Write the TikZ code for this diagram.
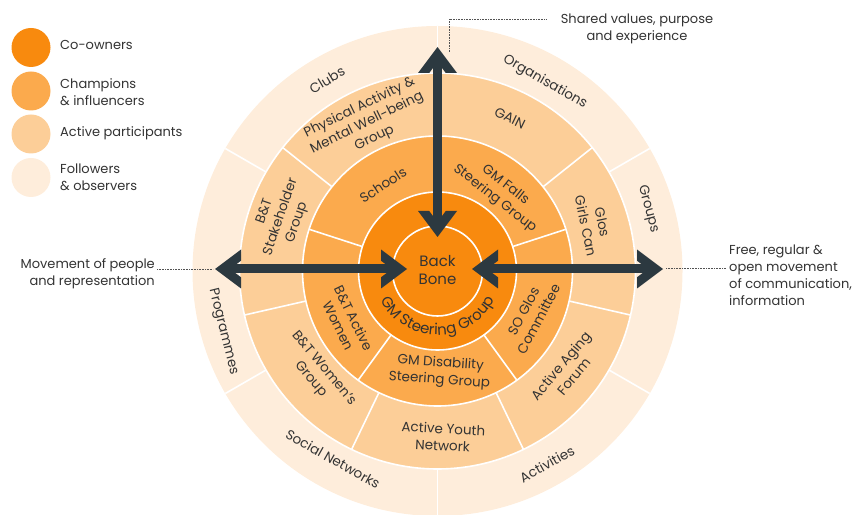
\documentclass[tikz,border=0pt]{standalone}
\usepackage{fontspec}
\setmainfont{Poppins}
\usetikzlibrary{decorations.text}
\definecolor{coown}{HTML}{F88A0E}
\definecolor{champ}{HTML}{FBAA4D}
\definecolor{activ}{HTML}{FCCE98}
\definecolor{follow}{HTML}{FEEDDB}
\definecolor{ink}{HTML}{333333}
\definecolor{arrowink}{HTML}{2C3940}
\newcommand\lblfont{\fontsize{13}{17}\selectfont}
\newcommand\ringfont{\fontsize{13.5}{17}\selectfont}
\newcommand\corefont{\fontsize{15}{18}\selectfont}
\begin{document}
\begin{tikzpicture}[x=1pt,y=1pt,
  sep/.style={white,line width=1.6pt},
  lbl/.style={text=ink,font=\ringfont,align=center,inner sep=0pt},
  legdot/.style={circle,minimum size=39pt,inner sep=0pt},
  legtxt/.style={text=ink,font=\lblfont,align=left,anchor=west,inner sep=0pt},
  shaft/.style={arrowink,line width=9pt},
  leader/.style={ink!85,line width=0.8pt,dash pattern=on 0.8pt off 0.8pt},
  chevron/.pic={\fill[arrowink] (0,0) -- (-26,19.5) -- (-26,8.3) -- (-15,0)
      -- (-26,-8.3) -- (-26,-19.5) -- cycle;}]
\useasboundingbox (0,0) rectangle (856,514);
\coordinate (C) at (437.5,243);

% concentric rings, outer to inner
\fill[follow] (C) circle (245);
\fill[activ]  (C) circle (198);
\fill[champ]  (C) circle (135);
\fill[coown]  (C) circle (79);
\foreach \r in {198,135,79,45} \draw[sep] (C) circle (\r);

% radial separators of each ring
\begin{scope}[shift={(C)}]
  \foreach \a in {30,90,...,330} \draw[sep] (\a:198) -- (\a:245);
  \foreach \k in {0,...,6} {
    \pgfmathsetmacro\a{90+\k*360/7}
    \draw[sep] (\a:135) -- (\a:198);
  }
  \foreach \a in {18,90,162,234,306} \draw[sep] (\a:79) -- (\a:135);
\end{scope}

% outer ring: followers & observers
\node[lbl,rotate=31]   (clubs) at (327,434) {Clubs};
\node[lbl,rotate=-30]  (orgs)  at (545,432) {Organisations};
\node[lbl,rotate=-75]  (grps)  at (648,305) {Groups};
\node[lbl,rotate=-76]  (progs) at (223,182) {Programmes};
\node[lbl,rotate=-29.5](socn)  at (333,55)  {Social Networks};
\node[lbl,rotate=29]   (acts)  at (547,50)  {Activities};

% second ring: active participants
\node[lbl,rotate=26]  (pamw)  at (367,391) {Physical Activity \&\\Mental Well-being\\Group};
\node[lbl,rotate=-26] (gain)  at (510,396) {GAIN};
\node[lbl,rotate=71]  (bts)   at (281,297) {B\&T\\Stakeholder\\Group};
\node[lbl,rotate=-78] (ggc)   at (594,290) {Glos\\Girls Can};
\node[lbl,rotate=-50] (btw)   at (317,140) {B\&T Women's\\Group};
\node[lbl,rotate=-3]  (ayn)   at (443,77)  {Active Youth\\Network};
\node[lbl,rotate=50]  (aaf)   at (567,143) {Active Aging\\Forum};

% third ring: champions & influencers
\node[lbl,rotate=33]  (schools) at (383,329) {Schools};
\node[lbl,rotate=-38] (gmfs)    at (500,322) {GM Falls\\Steering Group};
\node[lbl,rotate=-64] (btaw)    at (346,192) {B\&T Active\\Women};
\node[lbl,rotate=-4]  (gmds)    at (440,142) {GM Disability\\Steering Group};
\node[lbl,rotate=62]  (sogc)    at (531,199) {SO Glos\\Committee};

% inner ring and core: co-owners
\path[shift={(C)},decorate,decoration={text along path,text align=center,
  text={|\corefont\color{ink}|GM Steering Group}}]
  (198:64) arc[start angle=198,end angle=342,radius=64];
\node[lbl,font=\corefont] (bb) at (437.5,244) {Back\\Bone};

% two-way arrows
\coordinate (vTop) at (437.5,467);
\coordinate (vBot) at (437.5,277);
\coordinate (lOut) at (215,245);
\coordinate (lIn)  at (407,245);
\coordinate (rIn)  at (472,245);
\coordinate (rOut) at (663,245);
\draw[shaft,shorten <=8pt,shorten >=8pt] (vTop) -- (vBot);
\draw[shaft,shorten <=8pt,shorten >=8pt] (lOut) -- (lIn);
\draw[shaft,shorten <=8pt,shorten >=8pt] (rIn) -- (rOut);
\pic[rotate=90]  at (vTop) {chevron};
\pic[rotate=-90] at (vBot) {chevron};
\pic[rotate=180] at (lOut) {chevron};
\pic             at (lIn)  {chevron};
\pic[rotate=180] at (rIn)  {chevron};
\pic             at (rOut) {chevron};

% legend
\node[legdot,fill=coown]  (k1) at (31,466.5) {};
\node[legdot,fill=champ]  (k2) at (31,423) {};
\node[legdot,fill=activ]  (k3) at (31,380) {};
\node[legdot,fill=follow] (k4) at (31,336.5) {};
\node[legtxt] (k1t) at (60,469)   {Co-owners};
\node[legtxt] (k2t) at (60,421.5) {Champions\\\& influencers};
\node[legtxt] (k3t) at (60,381)   {Active participants};
\node[legtxt] (k4t) at (60,336.5) {Followers\\\& observers};

% annotations with dotted leaders
\node[lbl,font=\lblfont] (shared) at (637,485) {Shared values, purpose\\and experience};
\coordinate (shFoot) at (449,462);
\coordinate (shEnd)  at (547,495);
\draw[leader] (shFoot) |- (shEnd);

\node[lbl,font=\lblfont,align=right,anchor=east] (move) at (155,240) {Movement of people\\and representation};
\coordinate (mvEnd) at (157,245);
\coordinate (mvTip) at (213,245);
\draw[leader] (mvEnd) -- (mvTip);

\node[lbl,font=\lblfont,align=left,anchor=west] (free) at (729,239)
  {Free, regular \&\\open movement\\of communication,\\information};
\coordinate (frTip) at (666,246);
\coordinate (frEnd) at (726,246);
\draw[leader] (frTip) -- (frEnd);
\end{tikzpicture}
\end{document}
